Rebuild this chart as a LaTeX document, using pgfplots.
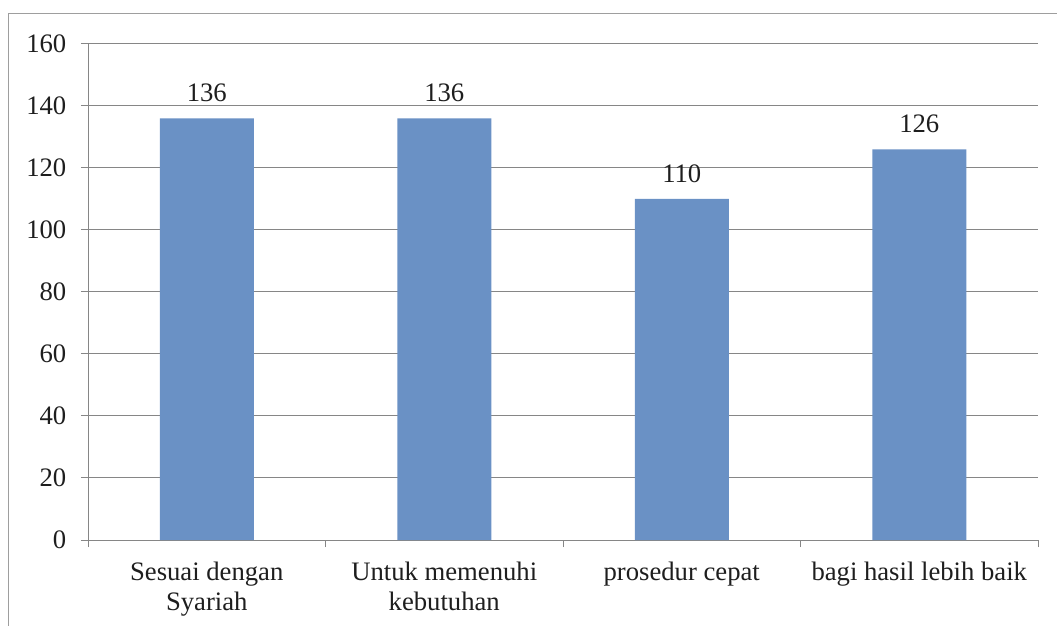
\documentclass[border=0pt]{standalone}
\usepackage{pgfplots}
\pgfplotsset{compat=1.18}
\usepackage{fontspec}
\setmainfont{LiberationSerif-Regular.ttf}[BoldFont=LiberationSerif-Bold.ttf]
\definecolor{barblue}{RGB}{106,145,197}
\definecolor{gridgray}{RGB}{134,134,134}
\definecolor{txt}{RGB}{30,30,30}
\begin{document}
\begin{tikzpicture}
\begin{axis}[
 at={(66pt,63.75pt)}, anchor=south west, scale only axis,
 width=712.5pt, height=372pt,
 ybar, bar width=70.5pt,
 xmin=-0.5, xmax=3.5, ymin=0, ymax=160,
 ytick={0,20,...,160},
 ymajorgrids, grid style={gridgray, line width=0.75pt},
 axis x line*=bottom, axis y line*=left,
 axis line style={gridgray, line width=0.75pt, -},
 tick align=outside, major tick length=5.25pt,
 tick style={gridgray, line width=0.75pt},
 xtick={-0.5,0.5,1.5,2.5,3.5}, xticklabels={},
 extra x ticks={0,1,2,3},
 extra x tick labels={{Sesuai dengan\\Syariah},{Untuk memenuhi\\kebutuhan},{prosedur cepat},{bagi hasil lebih baik}},
 extra x tick style={major tick length=0pt, grid=none},
 x tick label style={align=center, yshift=-13pt},
 y tick label style={xshift=-7.5pt},
 tick label style={font=\fontsize{20}{22.5}\selectfont, text=txt},
 /pgf/number format/assume math mode=true,
 nodes near coords,
 nodes near coords style={font=\fontsize{20}{22.5}\selectfont, text=txt, yshift=9pt},
]
\addplot[fill=barblue, draw=none] coordinates {(0,136) (1,136) (2,110) (3,126)};
\end{axis}
\draw[gridgray!80, line width=0.75pt] (6pt,-10pt) -- (6pt,458.25pt) -- (800pt,458.25pt);
\pgfresetboundingbox
\useasboundingbox (0,0) rectangle (792.75pt,468.75pt);
\end{tikzpicture}
\end{document}
